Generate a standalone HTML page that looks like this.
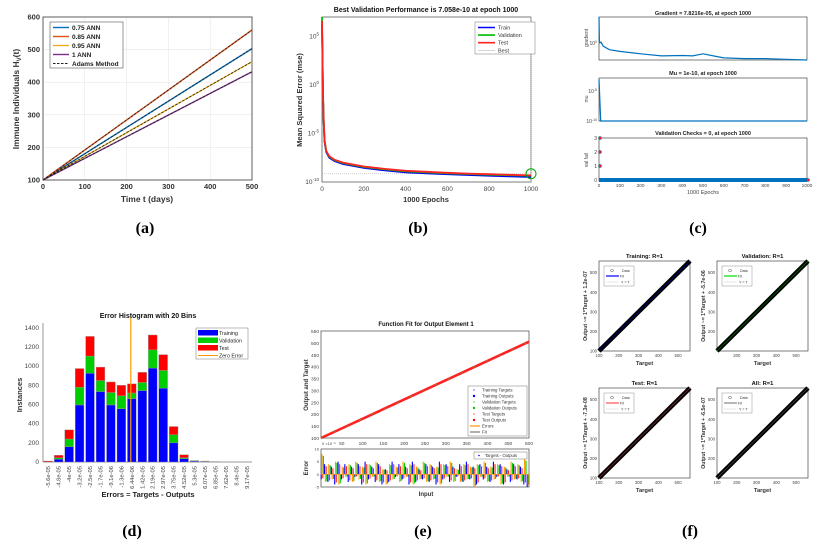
<!DOCTYPE html>
<html><head><meta charset="utf-8"><style>
html,body{margin:0;padding:0;background:#fff;width:822px;height:545px;overflow:hidden}
svg{display:block;font-family:"Liberation Sans",sans-serif}
.lbl{font-family:"Liberation Serif",serif;font-weight:bold;font-size:16px}
</style></head><body>
<svg id="fig" width="822" height="545" viewBox="0 0 822 545" xmlns="http://www.w3.org/2000/svg"></svg>
<script>
// ---------- data ----------
const aTimes=[0,500];
const aSeries075=[100,503];
const aSeries085=[100,560];
const aSeries095=[100,463];
const aSeries1=[100,432];
const aXTicks=[0,100,200,300,400,500];
const aYTicks=[100,200,300,400,500,600];

const bEpochs=[0,3,5,8,12,20,35,60,100,200,300,400,500,600,700,800,900,1000];
const bTrainLog=[6.3,1.8,-1.2,-3.8,-5.8,-6.9,-7.5,-7.85,-8.15,-8.55,-8.8,-9.0,-9.1,-9.2,-9.28,-9.35,-9.42,-9.48];
const bValLog=[7.0,2.0,-1.0,-3.6,-5.6,-6.8,-7.4,-7.75,-8.05,-8.45,-8.7,-8.9,-9.0,-9.1,-9.18,-9.25,-9.3,-9.35];
const bTestLog=[6.6,1.9,-1.1,-3.7,-5.7,-6.8,-7.35,-7.7,-8.0,-8.4,-8.65,-8.85,-8.95,-9.05,-9.13,-9.2,-9.26,-9.32];
const bBestLog=-9.15;
const bXTicks=[0,200,400,600,800,1000];
const bYTicks=[-10,-5,0,5];

const cEpochs=[0,2,5,10,20,50,100,200,300,400,450,500,550,600,700,800,900,1000];
const cGradLog=[0.75,0.05,0.0,0.02,-0.1,-0.2,-0.25,-0.32,-0.38,-0.37,-0.38,-0.32,-0.38,-0.44,-0.46,-0.46,-0.48,-0.5];
const cMuEpochs=[0,8,1000];
const cMuLog=[-3,-10,-10];
const cValEpochs=[0,0,0,1000];
const cValChecks=[3,2,1,0];
const cXTicks=[0,100,200,300,400,500,600,700,800,900,1000];

const dTrain=[0,30,160,595,925,735,595,555,660,745,980,770,200,35,10,5,3,2,0,0];
const dVal=[0,15,80,185,180,115,130,135,60,85,190,185,85,10,5,3,2,1,0,0];
const dTest=[10,25,95,195,205,140,110,110,95,105,155,165,85,30,0,2,0,0,0,0];
const dBins=["-5.6e-05","-4.8e-05","-4e-05","-3.2e-05","-2.5e-05","-1.7e-05","-9.1e-06","-1.3e-06","6.44e-06","1.42e-05","2.19e-05","2.97e-05","3.75e-05","4.52e-05","5.3e-05","6.07e-05","6.85e-05","7.62e-05","8.4e-05","9.17e-05"];
const dYTicks=[0,200,400,600,800,1000,1200,1400];
const dZeroBin=7.9;

const eInputs=[0,500];
const eOutputs=[100,505];
const eYTicks=[100,150,200,250,300,350,400,450,500,550];
const eXTicks=[0,50,100,150,200,250,300,350,400,450,500];
const eErrors=[8,-3,4,-2,5,-4,3,-1,4,-3,5,-2,3,-4,4,-1,5,-3,2,-4,4,-2,3,-3,5,-1,4,-4,3,-2,5,-3,4,-2,3,-4,4,-1,5,-3,2,-3,4,-2,3,-5,4,-1,5,-3,3,-2,4,-4,3,-1,5,-2,4,-3,6,-4];
const eErrorsB=[-2,4,-3,3,-4,5,-2,4,-3,3,-1,4,-4,5,-2,3,-3,4,-4,2,-3,5,-1,4,-2,3,-4,5,-3,2,-2,4,-3,3,-4,5,-2,4,-3,3,-1,4,-3,5,-2,3,-4,4,-2,3,-3,5,-1,4,-4,2,-3,4,-2,3,-4,-5];

const fTitles=["Training: R=1","Validation: R=1","Test: R=1","All: R=1"];
const fYLabels=["Output ~= 1*Target + 1.2e-07","Output ~= 1*Target + -5.7e-06","Output ~= 1*Target + -7.3e-08","Output ~= 1*Target + -6.5e-07"];
const fFitColors=["#0000ff","#00dd00","#ff5555","#888888"];
const fTargets=[100,560];
const fTicks=[100,200,300,400,500];

// ---------- helpers ----------
const svg=document.getElementById('fig');
const NS='http://www.w3.org/2000/svg';
function mk(tag,attrs,parent,txt){const e=document.createElementNS(NS,tag);for(const k in attrs)e.setAttribute(k,attrs[k]);if(txt!==undefined)e.textContent=txt;(parent||svg).appendChild(e);return e;}
function lin(d0,d1,r0,r1){return v=>r0+(v-d0)/(d1-d0)*(r1-r0);}
function pts(xs,ys,sx,sy){return xs.map((x,i)=>sx(x).toFixed(1)+','+sy(ys[i]).toFixed(1)).join(' ');}
function grp(name){const g=mk('g',{});return g;}
function box(g,x0,y0,x1,y1,name){const r=mk('rect',{x:x0,y:y0,width:x1-x0,height:y1-y0,fill:'#fff',stroke:'#262626','stroke-width':0.6},g);return r;}
function txt(g,x,y,s,attrs,name){const t=mk('text',Object.assign({x:x,y:y},attrs),g,s);return t;}

// ================= (a) =================
(function(){
const g=grp('panel-a');
const X0=43,X1=252,Y0=17,Y1=180;
const sx=lin(0,500,X0,X1),sy=lin(100,600,Y1,Y0);
box(g,X0,Y0,X1,Y1,'plot-area-a');
aXTicks.forEach(t=>{mk('line',{x1:sx(t),x2:sx(t),y1:Y0,y2:Y1,stroke:'#e3e3e3','stroke-width':0.5},g);txt(g,sx(t),189,t,{'font-size':7.5,'font-weight':'bold','text-anchor':'middle',fill:'#333'},'x-tick-label');});
aYTicks.forEach(t=>{mk('line',{x1:X0,x2:X1,y1:sy(t),y2:sy(t),stroke:'#e3e3e3','stroke-width':0.5},g);txt(g,X0-3,sy(t)+2.5,t,{'font-size':7.5,'font-weight':'bold','text-anchor':'end',fill:'#333'},'y-tick-label');});
mk('rect',{x:X0,y:Y0,width:X1-X0,height:Y1-Y0,fill:'none',stroke:'#262626','stroke-width':0.6},g);
const ser=[[aSeries075,'#0072BD','line-075-ann'],[aSeries085,'#D95319','line-085-ann'],[aSeries095,'#EDB120','line-095-ann'],[aSeries1,'#7E2F8E','line-1-ann']];
ser.forEach(s=>{const l=mk('polyline',{points:pts(aTimes,s[0],sx,sy),fill:'none',stroke:s[1],'stroke-width':1.4},g);});
ser.forEach(s=>{const l=mk('polyline',{points:pts(aTimes,s[0],sx,sy),fill:'none',stroke:'#222','stroke-width':0.8,'stroke-dasharray':'2.5,1.5'},g);});
const lg=mk('g',{},g);
mk('rect',{x:50,y:22,width:73,height:46,fill:'#fff',stroke:'#333','stroke-width':0.5},lg);
const names=['0.75 ANN','0.85 ANN','0.95 ANN','1 ANN','Adams Method'];
const cols=['#0072BD','#D95319','#EDB120','#7E2F8E','#222'];
names.forEach((n,i)=>{const y=27.5+i*9;mk('line',{x1:53,x2:69,y1:y,y2:y,stroke:cols[i],'stroke-width':i==4?0.9:1.4,'stroke-dasharray':i==4?'2.5,1.5':''},lg);txt(lg,72,y+2.5,n,{'font-size':6.5,'font-weight':'bold',fill:'#222'},'legend-entry');});
txt(g,147,202,'Time t (days)',{'font-size':8.5,'font-weight':'bold','text-anchor':'middle',fill:'#333'},'x-axis-title');
const yt=txt(g,0,0,'',{'font-size':8.5,'font-weight':'bold','text-anchor':'middle',fill:'#333',transform:'translate(19,99) rotate(-90)'},'y-axis-title');
yt.innerHTML='Immune Individuals H<tspan font-size="6" dy="2">V</tspan><tspan dy="-2">(t)</tspan>';
txt(g,145,233,'(a)',{class:'lbl','text-anchor':'middle'},'panel-label-a');
})();

// ================= (b) =================
(function(){
const g=grp('panel-b');
const X0=322,X1=531,Y0=17,Y1=182;
const sx=lin(0,1000,X0,X1),sy=lin(-10,7,Y1,Y0);
box(g,X0,Y0,X1,Y1,'plot-area-b');
bXTicks.forEach(t=>txt(g,sx(t),191,t,{'font-size':6.5,'text-anchor':'middle',fill:'#444'},'x-tick-label'));
bYTicks.forEach(t=>{const e=txt(g,X0-3,sy(t)+2,'',{'font-size':6.5,'text-anchor':'end',fill:'#444'},'y-tick-label');e.innerHTML='10<tspan font-size="4.5" dy="-3">'+t+'</tspan>';});
mk('line',{x1:X0,x2:X1,y1:sy(bBestLog),y2:sy(bBestLog),stroke:'#aaa','stroke-width':0.5,'stroke-dasharray':'1,1'},g);
mk('line',{x1:sx(1000),x2:sx(1000),y1:Y0,y2:Y1,stroke:'#ccc','stroke-width':0.5,'stroke-dasharray':'1,1'},g);
[[bTrainLog,'#0000ff','train-line'],[bValLog,'#00bb00','validation-line'],[bTestLog,'#ff2222','test-line']].forEach(s=>{const l=mk('polyline',{points:pts(bEpochs,s[0],sx,sy),fill:'none',stroke:s[1],'stroke-width':1.8},g);});
const c=mk('circle',{cx:sx(1000),cy:sy(bBestLog),r:5,fill:'none',stroke:'#00aa00','stroke-width':1},g);
const lg=mk('g',{},g);
mk('rect',{x:475,y:22,width:60,height:32,fill:'#fff',stroke:'#555','stroke-width':0.4},lg);
[['Train','#0000ff'],['Validation','#00bb00'],['Test','#ff2222'],['Best','#aaa']].forEach((s,i)=>{const y=27.5+i*7.6;mk('line',{x1:478,x2:495,y1:y,y2:y,stroke:s[1],'stroke-width':i==3?0.5:1.6},lg);txt(lg,498,y+2,s[0],{'font-size':5.5,fill:'#333'},'legend-entry');});
txt(g,426,12,'Best Validation Performance is 7.058e-10 at epoch 1000',{'font-size':7,'font-weight':'bold','text-anchor':'middle',fill:'#111'},'chart-title-b');
txt(g,426,202,'1000 Epochs',{'font-size':7.5,'font-weight':'bold','text-anchor':'middle',fill:'#333'},'x-axis-title');
txt(g,0,0,'Mean Squared Error  (mse)',{'font-size':7.5,'font-weight':'bold','text-anchor':'middle',fill:'#333',transform:'translate(302,100) rotate(-90)'},'y-axis-title');
txt(g,418,233,'(b)',{class:'lbl','text-anchor':'middle'},'panel-label-b');
})();

// ================= (c) =================
(function(){
const g=grp('panel-c');
const X0=599,X1=807;
const sx=lin(0,1000,X0,X1);
let Y0=17,Y1=60,sy=lin(-0.5,0.75,Y1,Y0);
box(g,X0,Y0,X1,Y1,'gradient-plot');
let l=mk('polyline',{points:pts(cEpochs,cGradLog,sx,sy),fill:'none',stroke:'#0072BD','stroke-width':1.2},g);
let e=txt(g,X0-2,sy(0)+2,'',{'font-size':5,'text-anchor':'end',fill:'#444'},'y-tick-label');e.innerHTML='10<tspan font-size="3.5" dy="-2">0</tspan>';
txt(g,703,15,'Gradient = 7.8216e-05, at epoch 1000',{'font-size':5.5,'font-weight':'bold','text-anchor':'middle',fill:'#222'},'gradient-title');
txt(g,0,0,'gradient',{'font-size':5,'text-anchor':'middle',fill:'#444',transform:'translate(588,38) rotate(-90)'},'y-axis-title');
Y0=78;Y1=121;sy=lin(-10,-2.8,Y1,Y0);
box(g,X0,Y0,X1,Y1,'mu-plot');
l=mk('polyline',{points:pts(cMuEpochs,cMuLog,sx,sy),fill:'none',stroke:'#0072BD','stroke-width':1.2},g);
[-5,-10].forEach(t=>{const e2=txt(g,X0-2,sy(t)+2,'',{'font-size':5,'text-anchor':'end',fill:'#444'},'y-tick-label');e2.innerHTML='10<tspan font-size="3.5" dy="-2">'+t+'</tspan>';});
txt(g,703,75,'Mu = 1e-10, at epoch 1000',{'font-size':5.5,'font-weight':'bold','text-anchor':'middle',fill:'#222'},'mu-title');
txt(g,0,0,'mu',{'font-size':5,'text-anchor':'middle',fill:'#444',transform:'translate(588,99) rotate(-90)'},'y-axis-title');
Y0=138;Y1=181;sy=lin(0,3,Y1-1,Y0);
box(g,X0,Y0,X1,Y1,'val-checks-plot');
const bar=mk('line',{x1:sx(0),x2:sx(1000),y1:sy(0),y2:sy(0),stroke:'#0072BD','stroke-width':4},g);
cValEpochs.forEach((ep,i)=>{const p=mk('circle',{cx:sx(ep)+1,cy:sy(cValChecks[i]),r:1.6,fill:'#ff2222',stroke:'#0072BD','stroke-width':0.5},g);});
[0,1,2,3].forEach(t=>txt(g,X0-2,sy(t)+2,t,{'font-size':5,'text-anchor':'end',fill:'#444'},'y-tick-label'));
cXTicks.forEach(t=>txt(g,sx(t),187,t,{'font-size':4.8,'text-anchor':'middle',fill:'#444'},'x-tick-label'));
txt(g,703,135,'Validation Checks = 0, at epoch 1000',{'font-size':5.5,'font-weight':'bold','text-anchor':'middle',fill:'#222'},'val-checks-title');
txt(g,703,194,'1000 Epochs',{'font-size':5.5,'text-anchor':'middle',fill:'#444'},'x-axis-title');
txt(g,0,0,'val fail',{'font-size':5,'text-anchor':'middle',fill:'#444',transform:'translate(588,160) rotate(-90)'},'y-axis-title');
txt(g,698,233,'(c)',{class:'lbl','text-anchor':'middle'},'panel-label-c');
})();

// ================= (d) =================
(function(){
const g=grp('panel-d');
const X0=43,X1=252,Y0=323,Y1=462;
const n=dBins.length,bw=(X1-X0)/n;
const sx=i=>X0+bw*(i+0.5),sy=lin(0,1450,Y1,Y0);
mk('line',{x1:X0,x2:X0,y1:Y0,y2:Y1,stroke:'#333','stroke-width':0.5},g);
mk('line',{x1:X0,x2:X1,y1:Y1,y2:Y1,stroke:'#333','stroke-width':0.5},g);
dYTicks.forEach(t=>txt(g,X0-4,sy(t)+2,t,{'font-size':6.5,'text-anchor':'end',fill:'#444'},'y-tick-label'));
dBins.forEach((b,i)=>{
 const tr=dTrain[i],va=dVal[i],te=dTest[i],x=sx(i)-bw*0.42,w=bw*0.84;
 [[0,tr,'#0000ff','bar-training'],[tr,tr+va,'#00cc00','bar-validation'],[tr+va,tr+va+te,'#ff0000','bar-test']].forEach(s=>{if(s[1]>s[0]){const r=mk('rect',{x:x,y:sy(s[1]),width:w,height:sy(s[0])-sy(s[1]),fill:s[2],stroke:'#999','stroke-width':0.4},g);}});
 txt(g,0,0,b,{'font-size':5.8,'text-anchor':'end',fill:'#444',transform:'translate('+(sx(i)+2)+','+(Y1+4)+') rotate(-90)'},'x-tick-label');
});
const zx=X0+bw*(dZeroBin+0.5);
const z=mk('line',{x1:zx,x2:zx,y1:Y0-5,y2:Y1,stroke:'#ff9900','stroke-width':1.2},g);
const lg=mk('g',{},g);
mk('rect',{x:196,y:328,width:52,height:31,fill:'#fff',stroke:'#555','stroke-width':0.4},lg);
[['Training','#0000ff'],['Validation','#00cc00'],['Test','#ff0000']].forEach((s,i)=>{mk('rect',{x:198,y:330+i*7.5,width:20,height:5.5,fill:s[1]},lg);txt(lg,219,335+i*7.5,s[0],{'font-size':5.3,fill:'#222'},'legend-entry');});
mk('line',{x1:198,x2:218,y1:355.5,y2:355.5,stroke:'#ff9900','stroke-width':1},lg);
txt(lg,219,357.5,'Zero Error',{'font-size':5.3,fill:'#222'},'legend-entry');
txt(g,148,318,'Error Histogram with 20 Bins',{'font-size':7,'font-weight':'bold','text-anchor':'middle',fill:'#111'},'chart-title-d');
txt(g,148,497,'Errors = Targets - Outputs',{'font-size':7.5,'font-weight':'bold','text-anchor':'middle',fill:'#222'},'x-axis-title');
txt(g,0,0,'Instances',{'font-size':7.5,'font-weight':'bold','text-anchor':'middle',fill:'#333',transform:'translate(22,395) rotate(-90)'},'y-axis-title');
txt(g,132,536,'(d)',{class:'lbl','text-anchor':'middle'},'panel-label-d');
})();

// ================= (e) =================
(function(){
const g=grp('panel-e');
const X0=321,X1=529,Y0=331,Y1=438;
const sx=lin(0,500,X0,X1),sy=lin(100,550,Y1,Y0);
box(g,X0,Y0,X1,Y1,'fit-plot');
eYTicks.forEach(t=>txt(g,X0-2,sy(t)+2,t,{'font-size':4.8,'text-anchor':'end',fill:'#444'},'y-tick-label'));
eXTicks.forEach(t=>{if(t>0)txt(g,sx(t),445,t,{'font-size':4.8,'text-anchor':'middle',fill:'#444'},'x-tick-label');});
txt(g,322,445,'0 ×10⁻⁵',{'font-size':4,fill:'#444'},'exponent-label');
const fl=mk('polyline',{points:pts(eInputs,eOutputs,sx,sy),fill:'none',stroke:'#ff2222','stroke-width':2.6},g);
mk('polyline',{points:pts(eInputs,eOutputs,sx,sy),fill:'none',stroke:'#33bb33','stroke-width':0.6,'stroke-dasharray':'2,12'},g);
const lg=mk('g',{},g);
mk('rect',{x:468,y:386,width:59,height:50,fill:'#fff',stroke:'#555','stroke-width':0.4},lg);
[['Training Targets','#0000ff'],['Training Outputs','#0000ff'],['Validation Targets','#00cc00'],['Validation Outputs','#00cc00'],['Test Targets','#ff0000'],['Test Outputs','#ff0000']].forEach((s,i)=>{const y=390+i*6;mk('circle',{cx:474,cy:y,r:i%2?1.2:0.6,fill:s[1]},lg);txt(lg,482,y+1.6,s[0],{'font-size':4.3,fill:'#333'},'legend-entry');});
mk('line',{x1:470,x2:480,y1:426,y2:426,stroke:'#ff9900','stroke-width':1.2},lg);txt(lg,482,427.6,'Errors',{'font-size':4.3,fill:'#333'},'legend-entry');
mk('line',{x1:470,x2:480,y1:432,y2:432,stroke:'#333','stroke-width':0.8},lg);txt(lg,482,433.6,'Fit',{'font-size':4.3,fill:'#333'},'legend-entry');
const E0=449,E1=487,ey=lin(-5,10,E1,E0);
box(g,X0,E0,X1,E1,'error-plot');
const step=(X1-X0-2)/(eErrors.length-1);
eErrors.forEach((v,i)=>{const x=X0+1+i*step;const vb=(eErrorsB[i]===undefined)?-v:eErrorsB[i];
 [[vb,'#0000ff',-0.8],[v,'#ff9900',0],[vb*0.8,'#ff2222',0.8],[v*0.9,'#00cc00',1.4]].forEach(s=>{const xx=Math.min(X1,x+s[2]);const ln=mk('line',{x1:xx,x2:xx,y1:ey(0),y2:ey(s[0]),stroke:s[1],'stroke-width':1.1},g);});
});
mk('line',{x1:X0,x2:X1,y1:ey(0),y2:ey(0),stroke:'#ff9900','stroke-width':0.6},g);
[-5,0,5,10].forEach(t=>txt(g,X0-2,ey(t)+1.5,t,{'font-size':4,'text-anchor':'end',fill:'#444'},'y-tick-label'));
const lg2=mk('g',{},g);
mk('rect',{x:474,y:452,width:53,height:7,fill:'#fff',stroke:'#555','stroke-width':0.4},lg2);
mk('circle',{cx:479,cy:455.5,r:0.8,fill:'#0000ff'},lg2);txt(lg2,485,457,'Targets - Outputs',{'font-size':4.2,fill:'#333'},'legend-entry');
txt(g,426,326,'Function Fit for Output Element 1',{'font-size':6,'font-weight':'bold','text-anchor':'middle',fill:'#111'},'chart-title-e');
txt(g,426,496,'Input',{'font-size':6,'font-weight':'bold','text-anchor':'middle',fill:'#333'},'x-axis-title');
txt(g,0,0,'Output and Target',{'font-size':6,'font-weight':'bold','text-anchor':'middle',fill:'#333',transform:'translate(308,385) rotate(-90)'},'y-axis-title');
txt(g,0,0,'Error',{'font-size':6,'font-weight':'bold','text-anchor':'middle',fill:'#333',transform:'translate(308,468) rotate(-90)'},'y-axis-title');
txt(g,423,536,'(e)',{class:'lbl','text-anchor':'middle'},'panel-label-e');
})();

// ================= (f) =================
(function(){
const boxes=[[599,261,690,351],[717,261,808,351],[599,388,690,478],[717,388,808,478]];
boxes.forEach((b,k)=>{
 const g=grp('regression-'+['training','validation','test','all'][k]);
 const [X0,Y0,X1,Y1]=b;const sx=lin(100,560,X0,X1),sy=lin(100,560,Y1,Y0);
 box(g,X0,Y0,X1,Y1,'regression-plot');
 fTicks.forEach(t=>{if(k%2==0||t>100)txt(g,X0-2,sy(t)+1.5,t,{'font-size':4.3,'text-anchor':'end',fill:'#444'},'y-tick-label');if(k>=2||t>100||k==0)txt(g,sx(t),Y1+6,t,{'font-size':4.3,'text-anchor':'middle',fill:'#444'},'x-tick-label');});
 const d=mk('polyline',{points:pts(fTargets,fTargets,sx,sy),fill:'none',stroke:'#000','stroke-width':4.5},g);
 const f=mk('polyline',{points:pts(fTargets,fTargets,sx,sy),fill:'none',stroke:fFitColors[k],'stroke-width':0.6,opacity:0.6},g);
 const lg=mk('g',{},g);
 mk('rect',{x:X0+5,y:Y0+5,width:30,height:20,fill:'#fff',stroke:'#777','stroke-width':0.4},lg);
 mk('circle',{cx:X0+13,cy:Y0+9.5,r:1.4,fill:'none',stroke:'#333','stroke-width':0.4},lg);
 txt(lg,X0+23,Y0+11,'Data',{'font-size':3.6,fill:'#333'},'legend-entry');
 mk('line',{x1:X0+7,x2:X0+20,y1:Y0+15,y2:Y0+15,stroke:fFitColors[k],'stroke-width':1.2},lg);
 txt(lg,X0+21,Y0+16.5,'Fit',{'font-size':3.6,fill:'#333'},'legend-entry');
 mk('line',{x1:X0+7,x2:X0+20,y1:Y0+21,y2:Y0+21,stroke:'#888','stroke-width':0.3,'stroke-dasharray':'1,0.6'},lg);
 txt(lg,X0+22,Y0+22.5,'Y = T',{'font-size':3.6,fill:'#333'},'legend-entry');
 txt(g,(X0+X1)/2,Y0-3,fTitles[k],{'font-size':5.8,'font-weight':'bold','text-anchor':'middle',fill:'#111'},'chart-title-f');
 txt(g,(X0+X1)/2,Y1+14,'Target',{'font-size':5.8,'font-weight':'bold','text-anchor':'middle',fill:'#333'},'x-axis-title');
 txt(g,0,0,fYLabels[k],{'font-size':5.2,'font-weight':'bold','text-anchor':'middle',fill:'#333',transform:'translate('+(X0-12)+','+((Y0+Y1)/2)+') rotate(-90)'},'y-axis-title');
});
const t=mk('text',{x:690,y:536,class:'lbl','text-anchor':'middle'},svg,'(f)');
})();
</script>
</body></html>
